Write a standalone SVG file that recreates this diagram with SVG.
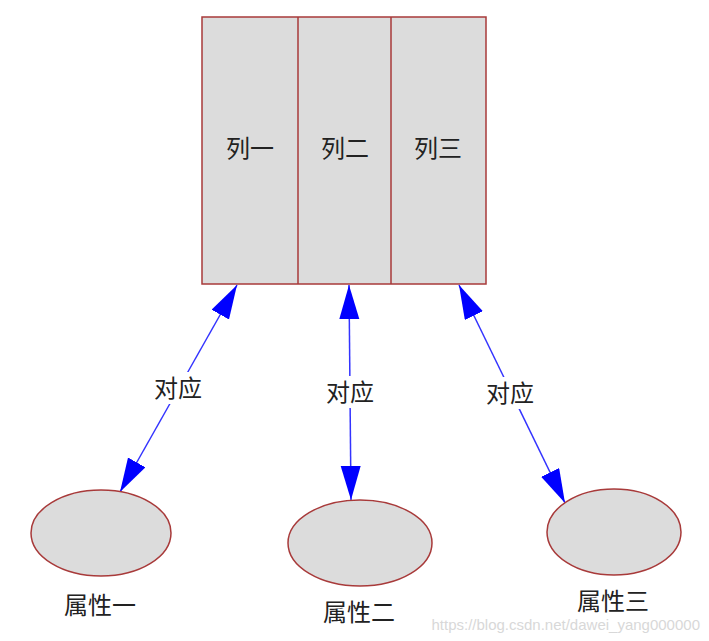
<svg xmlns="http://www.w3.org/2000/svg" width="709" height="641" viewBox="0 0 709 641">
<style>
.box{fill:#dcdcdc;stroke:#a83a3a;stroke-width:1.5}
.t{font-family:"Noto Sans CJK SC","Liberation Sans",sans-serif;font-size:24px;fill:#222;text-anchor:middle}
.e{fill:#dcdcdc;stroke:#a83a3a;stroke-width:1.5}
.c{stroke:#3333ff;stroke-width:1.5;fill:none;marker-start:url(#a);marker-end:url(#a)}
</style>
<defs><marker id="a" markerUnits="userSpaceOnUse" markerWidth="36" markerHeight="22" refX="34" refY="10" orient="auto-start-reverse"><path d="M0,0 L34,10 L0,20 Z" fill="#0000ff"/></marker></defs>
<rect width="709" height="641" fill="#fff"/>
<g id="table">
<rect class="box" x="202" y="17" width="284" height="267"/>
<line x1="298" y1="17" x2="298" y2="284" stroke="#a83a3a" stroke-width="1.5"/>
<line x1="391" y1="17" x2="391" y2="284" stroke="#a83a3a" stroke-width="1.5"/>
<text class="t" x="250" y="157">列一</text>
<text class="t" x="345" y="157">列二</text>
<text class="t" x="438" y="157">列三</text>
</g>
<g id="connectors">
<line class="c" x1="237" y1="285" x2="120" y2="492"/>
<line class="c" x1="349" y1="285" x2="351" y2="500"/>
<line class="c" x1="459" y1="285" x2="565" y2="503"/>
<rect x="146" y="372" width="64" height="32" fill="#fff"/>
<rect x="318" y="376" width="64" height="32" fill="#fff"/>
<rect x="478" y="377" width="64" height="32" fill="#fff"/>
<text class="t" x="178" y="397">对应</text>
<text class="t" x="350" y="401">对应</text>
<text class="t" x="510" y="402">对应</text>
</g>
<g id="attr1"><ellipse class="e" cx="101" cy="533" rx="70" ry="43"/><text class="t" x="100" y="614">属性一</text></g>
<g id="attr2"><ellipse class="e" cx="360" cy="543" rx="72" ry="43"/><text class="t" x="359" y="621">属性二</text></g>
<g id="attr3"><ellipse class="e" cx="614" cy="532" rx="67" ry="43"/><text class="t" x="613" y="610">属性三</text></g>
<text x="700" y="630" font-family="Liberation Sans,sans-serif" font-size="15" fill="#d8d8d8" text-anchor="end">https://blog.csdn.net/dawei_yang000000</text>
</svg>
